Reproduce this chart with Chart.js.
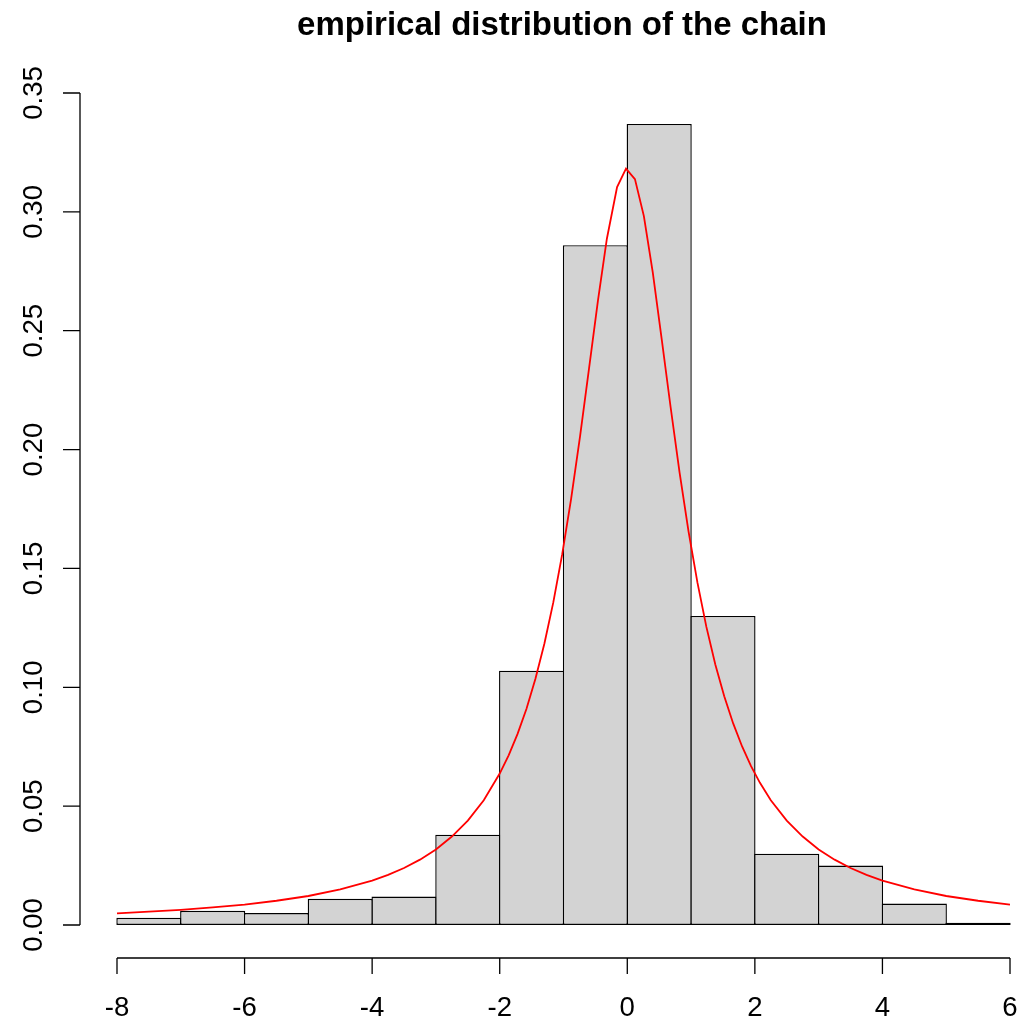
<!DOCTYPE html>
<html lang="en">
<head>
    <meta charset="UTF-8">
    <title>empirical distribution of the chain</title>
    <style>
        body {
            margin: 0;
            padding: 0;
            background-color: #fff;
        }
        canvas {
            display: block;
        }
    </style>
    <script src="https://cdn.jsdelivr.net/npm/chart.js"></script>
</head>
<body>
    <canvas id="histChart" width="1019" height="1021"></canvas>
    <script>
        // histogram bins (width 1) and their densities
        const binEdges = [-8, -7, -6, -5, -4, -3, -2, -1, 0, 1, 2, 3, 4, 5, 6];
        const binDensity = [0.003, 0.006, 0.005, 0.011, 0.012, 0.038, 0.107, 0.286, 0.337, 0.130, 0.030, 0.025, 0.009, 0.001];

        // red density curve
        const curveX = [-8, -7.5, -7, -6.5, -6, -5.5, -5, -4.5, -4, -3.75, -3.5, -3.25, -3, -2.75, -2.5, -2.25,
                        -2, -1.86, -1.72, -1.58, -1.44, -1.30, -1.16, -1.02,
                        -0.88, -0.74, -0.60, -0.46, -0.32, -0.16, -0.02, 0.12, 0.26, 0.40, 0.54, 0.68,
                        0.82, 0.96, 1.10, 1.24, 1.38, 1.52, 1.66, 1.80, 1.94, 2.08, 2.25, 2.5, 2.75,
                        3, 3.25, 3.5, 3.75, 4, 4.5, 5, 5.5, 6];
        const curveY = [0.0049, 0.0056, 0.0064, 0.0074, 0.0086, 0.0102, 0.0122, 0.0150, 0.0187, 0.0211, 0.0240,
                        0.0275, 0.0318, 0.0372, 0.0439, 0.0525,
                        0.0637, 0.0714, 0.0804, 0.0910, 0.1036, 0.1183, 0.1357, 0.1560,
                        0.1794, 0.2057, 0.2341, 0.2627, 0.2887, 0.3104, 0.3182, 0.3138, 0.2982, 0.2744,
                        0.2464, 0.2177, 0.1903, 0.1656, 0.1440, 0.1254, 0.1096, 0.0962, 0.0848, 0.0751,
                        0.0668, 0.0598, 0.0525, 0.0439, 0.0372,
                        0.0318, 0.0275, 0.0240, 0.0211, 0.0187, 0.0150, 0.0122, 0.0102, 0.0086];

        const xTicks = [-8, -6, -4, -2, 0, 2, 4, 6];
        const xTickLabels = ['-8', '-6', '-4', '-2', '0', '2', '4', '6'];
        const yTicks = [0, 0.05, 0.10, 0.15, 0.20, 0.25, 0.30, 0.35];
        const yTickLabels = ['0.00', '0.05', '0.10', '0.15', '0.20', '0.25', '0.30', '0.35'];

        const titleText = 'empirical distribution of the chain';
        const fontFamily = '"Liberation Sans", Arial, Helvetica, sans-serif';

        const barData = binDensity.map((d, i) => ({ x: (binEdges[i] + binEdges[i + 1]) / 2, y: d }));
        const lineData = curveX.map((x, i) => ({ x: x, y: curveY[i] }));

        // R-style axes, labels and title drawn with the chart's scales
        const rAxes = {
            id: 'rAxes',
            afterDraw(chart) {
                const ctx = chart.ctx;
                const xs = chart.scales.x;
                const ys = chart.scales.y;
                const area = chart.chartArea;
                ctx.save();
                ctx.strokeStyle = '#000';
                ctx.fillStyle = '#000';
                ctx.lineWidth = 1.3;

                // x axis
                const axY = area.bottom;
                ctx.beginPath();
                ctx.moveTo(xs.getPixelForValue(xTicks[0]), axY);
                ctx.lineTo(xs.getPixelForValue(xTicks[xTicks.length - 1]), axY);
                xTicks.forEach(t => {
                    const px = xs.getPixelForValue(t);
                    ctx.moveTo(px, axY);
                    ctx.lineTo(px, axY + 16);
                });
                ctx.stroke();
                ctx.font = '27.6px ' + fontFamily;
                ctx.textAlign = 'center';
                ctx.textBaseline = 'alphabetic';
                xTicks.forEach((t, i) => {
                    ctx.fillText(xTickLabels[i], xs.getPixelForValue(t), axY + 58);
                });

                // y axis
                const axX = area.left;
                ctx.beginPath();
                ctx.moveTo(axX, ys.getPixelForValue(yTicks[0]));
                ctx.lineTo(axX, ys.getPixelForValue(yTicks[yTicks.length - 1]));
                yTicks.forEach(t => {
                    const py = ys.getPixelForValue(t);
                    ctx.moveTo(axX, py);
                    ctx.lineTo(axX - 17, py);
                });
                ctx.stroke();
                yTicks.forEach((t, i) => {
                    const py = ys.getPixelForValue(t);
                    ctx.save();
                    ctx.translate(axX - 38, py);
                    ctx.rotate(-Math.PI / 2);
                    ctx.fillText(yTickLabels[i], 0, 0);
                    ctx.restore();
                });

                // title
                ctx.font = 'bold 33px ' + fontFamily;
                ctx.fillText(titleText, 562, 35);
                ctx.restore();
            }
        };

        new Chart(document.getElementById('histChart'), {
            type: 'bar',
            data: {
                datasets: [{
                    type: 'bar',
                    data: barData,
                    backgroundColor: '#d3d3d3',
                    borderColor: '#000',
                    borderWidth: 1.4,
                    borderSkipped: false,
                    // slightly wider than the bin so neighbouring borders overlap into one line
                    barPercentage: 1.021,
                    categoryPercentage: 1.0,
                    order: 2
                }, {
                    type: 'line',
                    data: lineData,
                    borderColor: '#ff0000',
                    borderWidth: 1.8,
                    pointRadius: 0,
                    tension: 0,
                    fill: false,
                    order: 1
                }]
            },
            options: {
                responsive: false,
                animation: false,
                layout: {
                    padding: { left: 80, top: 17, right: 0, bottom: 63 }
                },
                plugins: {
                    legend: { display: false },
                    title: { display: false },
                    tooltip: { enabled: false }
                },
                scales: {
                    x: {
                        type: 'linear',
                        display: false,
                        offset: false,
                        min: -8.58,
                        max: 6.141
                    },
                    y: {
                        type: 'linear',
                        display: false,
                        min: -0.01388,
                        max: 0.38197
                    }
                }
            },
            plugins: [rAxes]
        });
    </script>
</body>
</html>
